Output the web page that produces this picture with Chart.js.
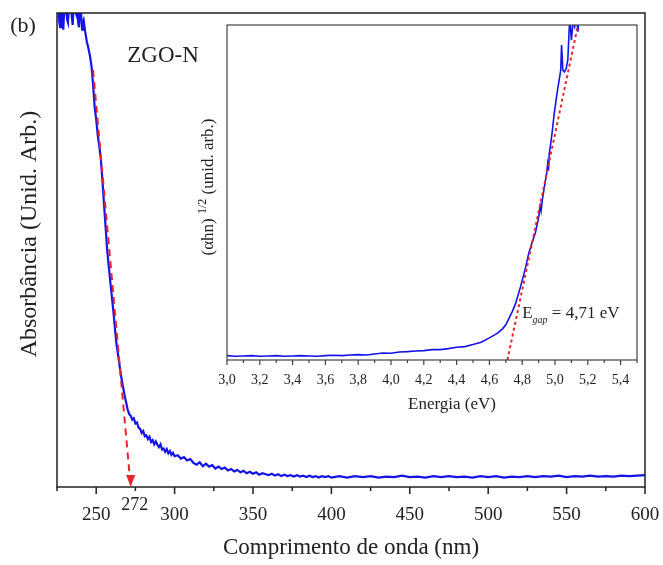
<!DOCTYPE html>
<html>
<head>
<meta charset="utf-8">
<script src="https://cdn.jsdelivr.net/npm/chart.js@4.4.1/dist/chart.umd.min.js"></script>
<style>
  body { margin: 0; background: #fff; }
  #wrap { position: relative; width: 663px; height: 565px; }
  #wrap canvas { position: absolute; left: 0; top: 0; }
</style>
</head>
<body>
<div id="wrap">
  <canvas id="main" width="663" height="565"></canvas>
  <canvas id="inset" width="663" height="565"></canvas>
</div>
<script>
/* Main spectrum: wavelength (nm) and absorbance (arb. units, 0-100 scale). */
const wavelength = [
  225, 225.5, 226, 226.5, 227, 227.5, 228, 228.5, 229, 229.5,
  230, 230.5, 231, 231.5, 232, 232.5, 233, 233.5, 234, 234.5,
  235, 235.5, 236, 236.5, 237, 237.5, 238, 238.5, 239, 239.5,
  240, 240.5, 241, 241.5, 242, 243, 244, 245,
  246, 247, 248, 249, 250, 251, 252, 253, 254, 255, 256, 257, 258, 259, 260, 261, 262, 263, 264, 265,
  266, 267, 268, 269, 270, 271, 272, 273, 274, 275, 276, 277, 278, 279, 280, 281, 282, 283, 284, 285,
  286, 287, 288, 289, 290, 291, 292, 293, 294, 295, 296, 297, 298, 299, 300,
  302, 304, 306, 308, 310, 312, 314, 316, 318, 320, 322, 324, 326, 328, 330, 332, 334, 336, 338, 340,
  342, 344, 346, 348, 350, 352, 354, 356, 358, 360, 362, 364, 366, 368, 370, 372, 374, 376, 378, 380,
  382, 384, 386, 388, 390, 392, 394, 396, 398, 400,
  405, 410, 415, 420, 425, 430, 435, 440, 445, 450, 455, 460, 465, 470, 475, 480, 485, 490, 495, 500,
  505, 510, 515, 520, 525, 530, 535, 540, 545, 550, 555, 560, 565, 570, 575, 580, 585, 590, 595, 600
]
const absorbance = [
  100, 102, 101, 98, 97, 101, 102, 99, 96.5, 100,
  101, 102, 100, 98.5, 98, 101, 102, 101, 101, 99,
  97.5, 101, 102, 100.5, 100, 102, 101, 98, 97, 101,
  102, 99, 96.5, 98, 98.5, 96.0, 94.0, 92.6,
  91.0, 88.8, 85.0, 80.2, 77.6, 74.2, 71.8, 69.0, 64.5, 59.6, 54.8, 50.0, 46.6, 43.3, 40.1, 36.9, 33.3, 30.0, 27.8, 25.4,
  23.2, 21.3, 19.5, 18.0, 16.4, 15.4, 15.0, 14.2, 14.5, 13.4, 13.6, 12.5, 12.3, 11.4, 11.8, 10.7, 10.9, 10.1, 10.6, 9.5,
  9.9, 9.0, 9.6, 8.9, 8.4, 9.0, 7.9, 8.1, 7.4, 8.0, 7.1, 7.6, 6.8, 7.2, 6.5,
  6.7, 6.0, 6.3, 5.6, 5.9, 5.1, 4.7, 5.2, 4.4, 4.9, 4.3, 4.6, 3.9, 4.3, 3.8, 4.1, 3.5, 3.8, 3.3, 3.6,
  3.1, 3.4, 2.9, 3.2, 2.8, 3.1, 2.6, 2.9, 2.7, 2.5, 2.8, 2.4, 2.7, 2.3, 2.6, 2.3, 2.5, 2.2, 2.5, 2.2,
  2.4, 2.1, 2.4, 2.1, 2.3, 2.0, 2.3, 2.1, 2.3, 2.0,
  2.3, 2.0, 2.3, 2.1, 2.3, 2.0, 2.2, 2.1, 2.4, 2.1, 2.2, 2.0, 2.3, 2.1, 2.3, 2.1, 2.2, 2.0, 2.3, 2.1,
  2.3, 2.0, 2.2, 2.1, 2.3, 2.1, 2.3, 2.2, 2.4, 2.1, 2.3, 2.2, 2.4, 2.2, 2.3, 2.2, 2.4, 2.3, 2.4, 2.5
]

/* Tangent used for the absorption edge, ends at 272 nm. */
const edgeFitX = [248, 272]
const edgeFitY = [88, 0]
const edgeValue = 272

const mainTicks = [250, 300, 350, 400, 450, 500, 550, 600]
const mainMinorTicks = [225, 275, 325, 375, 425, 475, 525, 575]

/* Inset: Tauc plot, energy (eV) and (alpha h nu)^1/2. */
const energy = [
  3.00, 3.05, 3.10, 3.15, 3.20, 3.25, 3.30, 3.35, 3.40, 3.45, 3.50, 3.55, 3.60, 3.65, 3.70, 3.75,
  3.80, 3.85, 3.90, 3.95, 4.00, 4.05, 4.10, 4.15, 4.20, 4.25, 4.30, 4.35, 4.40, 4.45, 4.50, 4.55,
  4.60, 4.65, 4.68, 4.70, 4.72, 4.74, 4.76, 4.79, 4.82, 4.84, 4.86, 4.88, 4.90, 4.91, 4.915, 4.925,
  4.94, 4.95, 4.955, 4.96, 4.965, 4.975, 4.985, 4.995, 5.005, 5.015, 5.025, 5.035, 5.04, 5.048,
  5.058, 5.068, 5.078, 5.085, 5.09, 5.10, 5.11, 5.12, 5.13, 5.14, 5.15
]
const tauc = [
  1.3, 1.1, 1.2, 1.3, 1.1, 1.2, 1.3, 1.1, 1.2, 1.3, 1.2, 1.1, 1.3, 1.4, 1.3, 1.5,
  1.6, 1.5, 1.8, 2.1, 2.0, 2.4, 2.5, 2.7, 2.8, 3.1, 3.1, 3.4, 3.8, 4.0, 4.6, 5.3,
  6.6, 8.0, 9.3, 10.5, 12.5, 14.5, 16.9, 21.9, 27.5, 31.9, 35.0, 37.9, 42.5, 46.0, 44.5, 48.5,
  53.0, 56.0, 58.5, 56.5, 61.5, 65.0, 69.0, 73.5, 77.0, 80.5, 83.5, 86.5, 94.0, 86.5,
  86.0, 87.0, 89.5, 97.0, 102, 95.5, 101, 99.5, 103, 98, 104
]

const gapFitX = [4.71, 5.14]
const gapFitY = [0, 100]
const gapLabel = "4,71 eV"

const insetTicks = [3.0, 3.2, 3.4, 3.6, 3.8, 4.0, 4.2, 4.4, 4.6, 4.8, 5.0, 5.2, 5.4]
const insetMinorTicks = [3.1, 3.3, 3.5, 3.7, 3.9, 4.1, 4.3, 4.5, 4.7, 4.9, 5.1, 5.3, 5.5]

const SERIF = '"Liberation Serif", "Times New Roman", serif'
const INK = "#222"
const BLUE = "#1414e6"
const RED = "#e4262c"

const toPoints = (xs, ys) => xs.map((x, i) => ({ x, y: ys[i] }))

/* Draw short tick marks pointing down from the x axis. */
const drawTickMarks = (ctx, scale, values, y, len) => {
  values.forEach(v => {
    const px = scale.getPixelForValue(v)
    ctx.moveTo(px, y)
    ctx.lineTo(px, y + len)
  })
}

/* Draw a run of text pieces along the current baseline, centred on 0. */
const drawPieces = (ctx, parts) => {
  let total = 0
  parts.forEach(p => { ctx.font = p.f; total += ctx.measureText(p.t).width })
  let tx = -total / 2
  parts.forEach(p => {
    ctx.font = p.f
    ctx.fillText(p.t, tx, p.dy)
    tx += ctx.measureText(p.t).width
  })
}

const mainDecor = {
  id: "mainDecor",
  afterDraw(chart) {
    const { ctx, chartArea: a, scales } = chart
    const x = scales.x
    const y = scales.y
    ctx.save()
    ctx.strokeStyle = INK
    ctx.lineWidth = 1.5
    ctx.strokeRect(a.left, a.top, a.right - a.left, a.bottom - a.top)
    ctx.beginPath()
    drawTickMarks(ctx, x, mainTicks, a.bottom, 7)
    drawTickMarks(ctx, x, mainMinorTicks, a.bottom, 4)
    ctx.stroke()

    /* Arrow head at the end of the tangent. */
    const tipX = x.getPixelForValue(edgeFitX[1])
    const tipY = y.getPixelForValue(edgeFitY[1])
    ctx.fillStyle = RED
    ctx.beginPath()
    ctx.moveTo(tipX, tipY)
    ctx.lineTo(tipX - 4.5, tipY - 12)
    ctx.lineTo(tipX + 4.5, tipY - 12)
    ctx.closePath()
    ctx.fill()

    ctx.fillStyle = INK
    ctx.textAlign = "center"
    ctx.textBaseline = "middle"
    ctx.font = "18px " + SERIF
    ctx.fillText(String(edgeValue), tipX + 4, 505)
    ctx.font = "22px " + SERIF
    ctx.fillText("(b)", 23, 26)
    ctx.font = "23px " + SERIF
    ctx.fillText("ZGO-N", 163, 56)

    /* y title, a little above the box centre as in the original. */
    ctx.translate(30, 234)
    ctx.rotate(-Math.PI / 2)
    ctx.font = "24px " + SERIF
    ctx.fillText("Absorbância (Unid. Arb.)", 0, 0)
    ctx.restore()
  }
}

const insetDecor = {
  id: "insetDecor",
  afterDraw(chart) {
    const { ctx, chartArea: a, scales } = chart
    const x = scales.x
    const y = scales.y
    ctx.save()
    ctx.strokeStyle = "#444"
    ctx.lineWidth = 1.2
    ctx.strokeRect(a.left, a.top, a.right - a.left, a.bottom - a.top)
    ctx.beginPath()
    drawTickMarks(ctx, x, insetTicks, a.bottom, 5)
    drawTickMarks(ctx, x, insetMinorTicks, a.bottom, 3)
    ctx.stroke()

    ctx.fillStyle = INK
    ctx.textBaseline = "alphabetic"

    /* x title, sits a bit right of centre as in the original. */
    ctx.font = "17px " + SERIF
    ctx.textAlign = "center"
    ctx.fillText("Energia (eV)", (a.left + a.right) / 2 + 20, 409)

    /* E_gap label. */
    ctx.textAlign = "left"
    let gx = x.getPixelForValue(4.8)
    const gy = y.getPixelForValue(12.5)
    ctx.font = "17px " + SERIF
    ctx.fillText("E", gx, gy)
    gx += ctx.measureText("E").width
    ctx.font = "italic 10px " + SERIF
    ctx.fillText("gap", gx, gy + 5)
    gx += ctx.measureText("gap").width
    ctx.font = "17px " + SERIF
    ctx.fillText(" = " + gapLabel, gx, gy)

    /* Rotated y title with superscript. */
    ctx.translate(213, 187)
    ctx.rotate(-Math.PI / 2)
    drawPieces(ctx, [
      { t: "(\u03b1hn) ", f: "17px " + SERIF, dy: 0 },
      { t: "1/2", f: "12px " + SERIF, dy: -7 },
      { t: " (unid. arb.)", f: "17px " + SERIF, dy: 0 }
    ])
    ctx.restore()
  }
}

/* Keep the plot box where the layout padding puts it. */
const noOverhang = scale => {
  scale.paddingLeft = 0
  scale.paddingRight = 0
}

const baseOptions = {
  responsive: false,
  animation: false,
  events: [],
  plugins: { legend: { display: false }, tooltip: { enabled: false } }
}

new Chart(document.getElementById("main"), {
  type: "scatter",
  data: {
    datasets: [{
      data: toPoints(edgeFitX, edgeFitY),
      showLine: true,
      borderColor: RED,
      borderWidth: 2,
      borderDash: [7, 5],
      pointRadius: 0
    }, {
      data: toPoints(wavelength, absorbance),
      showLine: true,
      borderColor: BLUE,
      borderWidth: 2.2,
      pointRadius: 0
    }]
  },
  options: {
    ...baseOptions,
    layout: { padding: { top: 13, right: 18, left: 0, bottom: 0 } },
    scales: {
      x: {
        type: "linear",
        min: 225,
        max: 600,
        afterBuildTicks: scale => { scale.ticks = mainTicks.map(v => ({ value: v })) },
        afterFit: scale => { scale.height = 78; noOverhang(scale) },
        grid: { display: false },
        border: { display: false },
        ticks: { color: INK, font: { family: SERIF, size: 19 }, padding: 9 },
        title: {
          display: true,
          text: "Comprimento de onda (nm)",
          color: INK,
          font: { family: SERIF, size: 23 },
          padding: { top: 0, bottom: 3 }
        }
      },
      y: {
        min: 0,
        max: 100,
        afterFit: scale => { scale.width = 57 },
        grid: { display: false },
        border: { display: false },
        ticks: { display: false }
      }
    }
  },
  plugins: [mainDecor]
})

new Chart(document.getElementById("inset"), {
  type: "scatter",
  data: {
    datasets: [{
      data: toPoints(gapFitX, gapFitY),
      showLine: true,
      borderColor: RED,
      borderWidth: 2,
      borderDash: [3, 3],
      pointRadius: 0
    }, {
      data: toPoints(energy, tauc),
      showLine: true,
      borderColor: BLUE,
      borderWidth: 1.6,
      pointRadius: 0
    }]
  },
  options: {
    ...baseOptions,
    layout: { padding: { top: 25, right: 26, left: 0, bottom: 0 } },
    scales: {
      x: {
        type: "linear",
        min: 3.0,
        max: 5.5,
        afterBuildTicks: scale => { scale.ticks = insetTicks.map(v => ({ value: v })) },
        afterFit: scale => { scale.height = 205; noOverhang(scale) },
        grid: { display: false },
        border: { display: false },
        ticks: {
          color: INK,
          font: { family: SERIF, size: 14 },
          padding: 4,
          callback: v => v.toFixed(1).replace(".", ",")
        }
      },
      y: {
        min: 0,
        max: 100,
        afterFit: scale => { scale.width = 227 },
        grid: { display: false },
        border: { display: false },
        ticks: { display: false }
      }
    }
  },
  plugins: [insetDecor]
})
</script>
</body>
</html>
